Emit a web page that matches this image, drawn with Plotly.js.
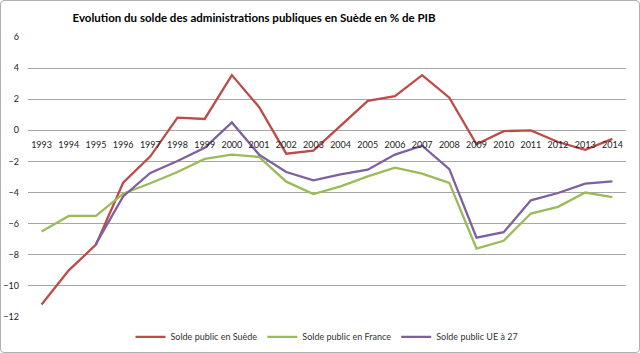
<!DOCTYPE html>
<html><head><meta charset="utf-8">
<script src="https://cdn.plot.ly/plotly-3.0.1.min.js"></script>
<style>
html,body{margin:0;padding:0;background:#fff;}
#wrap{position:relative;width:640px;height:353px;}
#frame{position:absolute;left:0;top:0;width:638px;height:351px;border:1px solid #b0b0b0;border-radius:4px;pointer-events:none;}
</style></head>
<body><div id="wrap"><div id="chart" style="width:640px;height:353px;"></div><div id="frame"></div></div>
<script>
const years = ["1993","1994","1995","1996","1997","1998","1999","2000","2001","2002","2003","2004","2005","2006","2007","2008","2009","2010","2011","2012","2013","2014"];
const sweden = [-11.2,-9.0,-7.35,-3.37,-1.67,0.82,0.73,3.55,1.5,-1.5,-1.3,0.3,1.9,2.2,3.55,2.1,-0.9,-0.05,0.0,-0.75,-1.25,-0.55];
const france = [-6.5,-5.5,-5.5,-4.07,-3.4,-2.68,-1.84,-1.56,-1.71,-3.3,-4.1,-3.6,-2.96,-2.4,-2.78,-3.38,-7.6,-7.1,-5.35,-4.92,-4.0,-4.3];
const eu27 = [null,null,-7.3,-4.25,-2.74,-1.97,-1.12,0.51,-1.56,-2.68,-3.22,-2.83,-2.53,-1.56,-0.99,-2.49,-6.9,-6.55,-4.5,-4.03,-3.43,-3.28];
const seriesNames = ["Solde public en Suède","Solde public en France","Solde public UE à 27"];
const titleText = "Evolution du solde des administrations publiques en Suède en % de PIB";

const font = "Lato, Liberation Sans, Arial, sans-serif";
const colors = ["#BE4B48","#9BBB59","#7D60A0"];
const vals = [sweden, france, eu27];
const traces = vals.map((v,i)=>({
  x: years, y: v, name: seriesNames[i], type:"scatter", mode:"lines",
  line:{color:colors[i], width:2.3}, connectgaps:false
}));
const layout = {
  width:640, height:353,
  margin:{l:28,r:14,t:37,b:36, autoexpand:false},
  paper_bgcolor:"#fff", plot_bgcolor:"#fff",
  title:{text:"<b>"+titleText+"</b>", font:{family:font,size:11.5,color:"#000"}, xref:"container", x:0.397, xanchor:"center", yref:"container", y:0.948, yanchor:"middle"},
  showlegend:true,
  legend:{orientation:"h", x:0.5, xanchor:"center", y:-0.071, yanchor:"middle", font:{family:font,size:9,color:"#333"}, itemwidth:30, tracegroupgap:0},
  xaxis:{type:"category", range:[-0.5,21.5], anchor:"free", position:12/18, showgrid:false, showline:false, zeroline:false, ticks:"", tickfont:{family:font,size:9,color:"#222"}, fixedrange:true, ticklabelstandoff:8},
  yaxis:{range:[-12,6], dtick:2, tick0:0, showgrid:true, gridcolor:"#a6a6a6", gridwidth:1, zeroline:true, zerolinecolor:"#a6a6a6", zerolinewidth:1, showline:false, ticks:"", tickfont:{family:font,size:9,color:"#222"}, ticklabelstandoff:8, fixedrange:true}
};
Plotly.newPlot("chart", traces, layout, {displayModeBar:false, staticPlot:true});
</script></body></html>
